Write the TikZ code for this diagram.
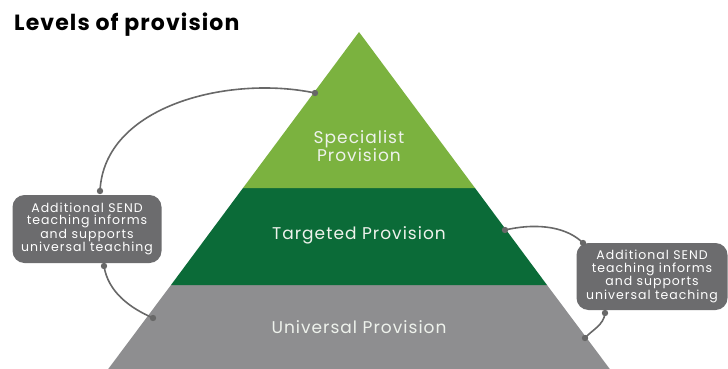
\documentclass[tikz,border=0pt]{standalone}
\usepackage{fontspec}
\setmainfont{Poppins}
\definecolor{lightgreen}{HTML}{7BB23F}
\definecolor{darkgreen}{HTML}{0B6B38}
\definecolor{unigrey}{HTML}{8E8E90}
\definecolor{boxgrey}{HTML}{6C6C6E}
\definecolor{linegrey}{HTML}{686868}
\definecolor{labeltext}{HTML}{EEF2EC}
\tikzset{
  levellabel/.style={text=labeltext, align=center,
    font=\fontsize{17}{18.5}\selectfont\addfontfeature{LetterSpace=6}},
  sendbox/.style={fill=boxgrey, rounded corners=12pt, text=white, align=center,
    font=\fontsize{12.5}{12.4}\selectfont\addfontfeature{LetterSpace=8}, inner sep=0pt},
  link/.style={draw=linegrey, line width=1.6pt},
  dot/.style={fill=linegrey}
}
\begin{document}
\begin{tikzpicture}[x=1pt,y=-1pt]
\useasboundingbox (0,0) rectangle (728,369);
\fill[white] (0,0) rectangle (728,369);
\begin{scope}
\clip (0,0) rectangle (728,369);
\fill[unigrey] (171,285) -- (547,285) -- (618,380) -- (100,380) -- cycle;
\end{scope}
\fill[darkgreen] (243,188) -- (475,188) -- (547,285) -- (171,285) -- cycle;
\fill[lightgreen] (359,32) -- (475,188) -- (243,188) -- cycle;
\node[anchor=base west, inner sep=0pt, font=\fontsize{22}{24}\selectfont\bfseries\addfontfeature{LetterSpace=5}] (title) at (14,31) {Levels of provision};
\node[levellabel] (spec) at (359,146) {Specialist\\Provision};
\node[levellabel] (targ) at (359,235) {Targeted Provision};
\node[levellabel] (univ) at (359,327) {Universal Provision};
\node[sendbox, minimum width=149pt, minimum height=68pt] (lbox) at (87,229) {Additional SEND\\teaching informs\\and supports\\universal teaching};
\node[sendbox, minimum width=151pt, minimum height=67pt] (rbox) at (652,276.5) {Additional SEND\\teaching informs\\and supports\\universal teaching};
\coordinate (l1) at (100,191);
\coordinate (l2) at (315,93);
\coordinate (l3) at (104,266);
\coordinate (l4) at (153,318);
\coordinate (r1) at (505,230);
\coordinate (r2) at (583,243);
\coordinate (r3) at (605,313);
\coordinate (r4) at (585,338);
\draw[link] (l1) .. controls (104,105) and (230,75) .. (l2);
\draw[link] (l3) .. controls (108,292) and (130,308) .. (l4);
\draw[link] (r1) .. controls (540,222) and (568,228) .. (r2);
\draw[link] (r3) .. controls (604,325) and (592,330) .. (r4);
\foreach \p in {l1,l2,l3,l4,r1,r2,r3,r4} \fill[dot] (\p) circle (3.2pt);
\end{tikzpicture}
\end{document}
